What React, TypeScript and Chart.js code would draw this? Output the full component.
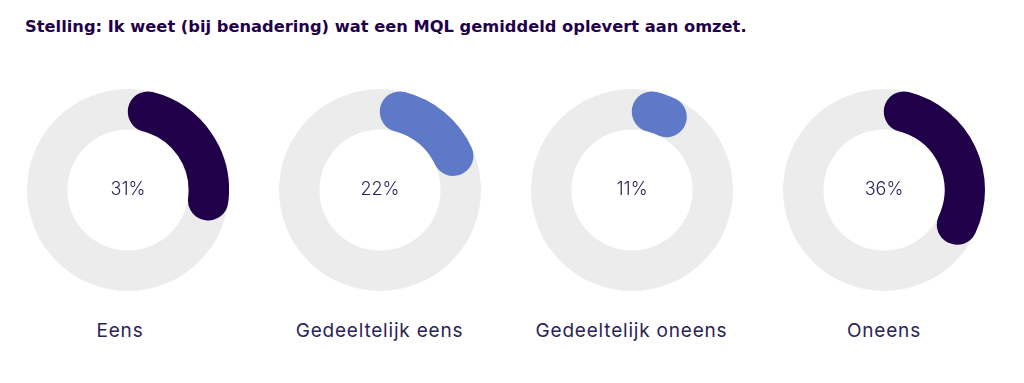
import React, { useEffect, useRef } from "react";
import { Chart, registerables } from "chart.js";

Chart.register(...registerables);

const title = "Stelling: Ik weet (bij benadering) wat een MQL gemiddeld oplevert aan omzet.";
const categories = ["Eens", "Gedeeltelijk eens", "Gedeeltelijk oneens", "Oneens"];
const percentages = [31, 22, 11, 36];
const arcColors = ["#1f0049", "#5e79c8", "#5e79c8", "#1f0049"];

// layout (pixels)
const centersX = [127.5, 379.5, 632, 883.5];
const labelCentersX = [120, 379.5, 631.5, 884];

const TRACK = "#ececec";
const TEXT = "#2b2356";
const CY = 190;
const R = 101;

const ringPlugin = {
  id: "ringTrack",
  beforeDatasetsDraw(chart: any) {
    const meta = chart.getDatasetMeta(0);
    const arc = meta.data[0];
    if (!arc) return;
    const { x, y, innerRadius, outerRadius } = arc.getProps(["x", "y", "innerRadius", "outerRadius"], true);
    const ctx = chart.ctx;
    ctx.save();
    ctx.beginPath();
    ctx.arc(x, y, outerRadius, 0, Math.PI * 2);
    ctx.arc(x, y, innerRadius, 0, Math.PI * 2, true);
    ctx.closePath();
    ctx.fillStyle = TRACK;
    ctx.fill();
    ctx.restore();
  },
  afterDatasetsDraw(chart: any, _args: any, opts: any) {
    const meta = chart.getDatasetMeta(0);
    const arc = meta.data[0];
    if (!arc) return;
    const { x, y } = arc.getProps(["x", "y"], true);
    const ctx = chart.ctx;
    ctx.save();
    ctx.font = "300 18px Inter, 'Open Sans', sans-serif";
    ctx.fillStyle = TEXT;
    ctx.textAlign = "center";
    ctx.textBaseline = "middle";
    ctx.fillText(opts.text, x, y);
    ctx.restore();
  },
};

function Donut({ index }: { index: number }) {
  const ref = useRef<HTMLCanvasElement>(null);
  useEffect(() => {
    if (!ref.current) return;
    const p = percentages[index];
    const chart = new Chart(ref.current, {
      type: "doughnut",
      data: {
        labels: [categories[index], ""],
        datasets: [
          {
            data: [p, 100 - p],
            backgroundColor: [arcColors[index], "rgba(0,0,0,0)"],
            borderWidth: 0,
            borderRadius: 20,
          },
        ],
      },
      options: {
        animation: false,
        responsive: false,
        maintainAspectRatio: false,
        cutout: "60%",
        events: [],
        layout: { padding: 0 },
        plugins: {
          legend: { display: false },
          tooltip: { enabled: false },
          ringTrack: { text: p + "%" },
        } as any,
      },
      plugins: [ringPlugin],
    });
    return () => chart.destroy();
  }, [index]);
  return (
    <canvas
      ref={ref}
      width={R * 2}
      height={R * 2}
      style={{ position: "absolute", left: centersX[index] - R, top: CY - R, width: R * 2, height: R * 2 }}
    />
  );
}

export default function App() {
  useEffect(() => {
    document.body.style.margin = "0";
  }, []);
  return (
    <div style={{ position: "relative", width: 1024, height: 383, background: "#fff", overflow: "hidden" }}>
      <div
        style={{
          position: "absolute",
          left: 25,
          top: 17,
          fontFamily: "'DejaVu Sans', sans-serif",
          fontWeight: 700,
          fontSize: 16.3,
          lineHeight: "20px",
          color: "#1f0049",
          whiteSpace: "nowrap",
        }}
      >
        {title}
      </div>
      {categories.map((c, i) => (
        <Donut key={c} index={i} />
      ))}
      {categories.map((c, i) => (
        <div
          key={"l" + c}
          style={{
            position: "absolute",
            left: labelCentersX[i] - 130,
            width: 260,
            top: 319,
            textAlign: "center",
            fontFamily: "Inter, sans-serif",
            fontSize: 19,
            letterSpacing: 0.8,
            lineHeight: "24px",
            color: TEXT,
            whiteSpace: "nowrap",
          }}
        >
          {c}
        </div>
      ))}
    </div>
  );
}
